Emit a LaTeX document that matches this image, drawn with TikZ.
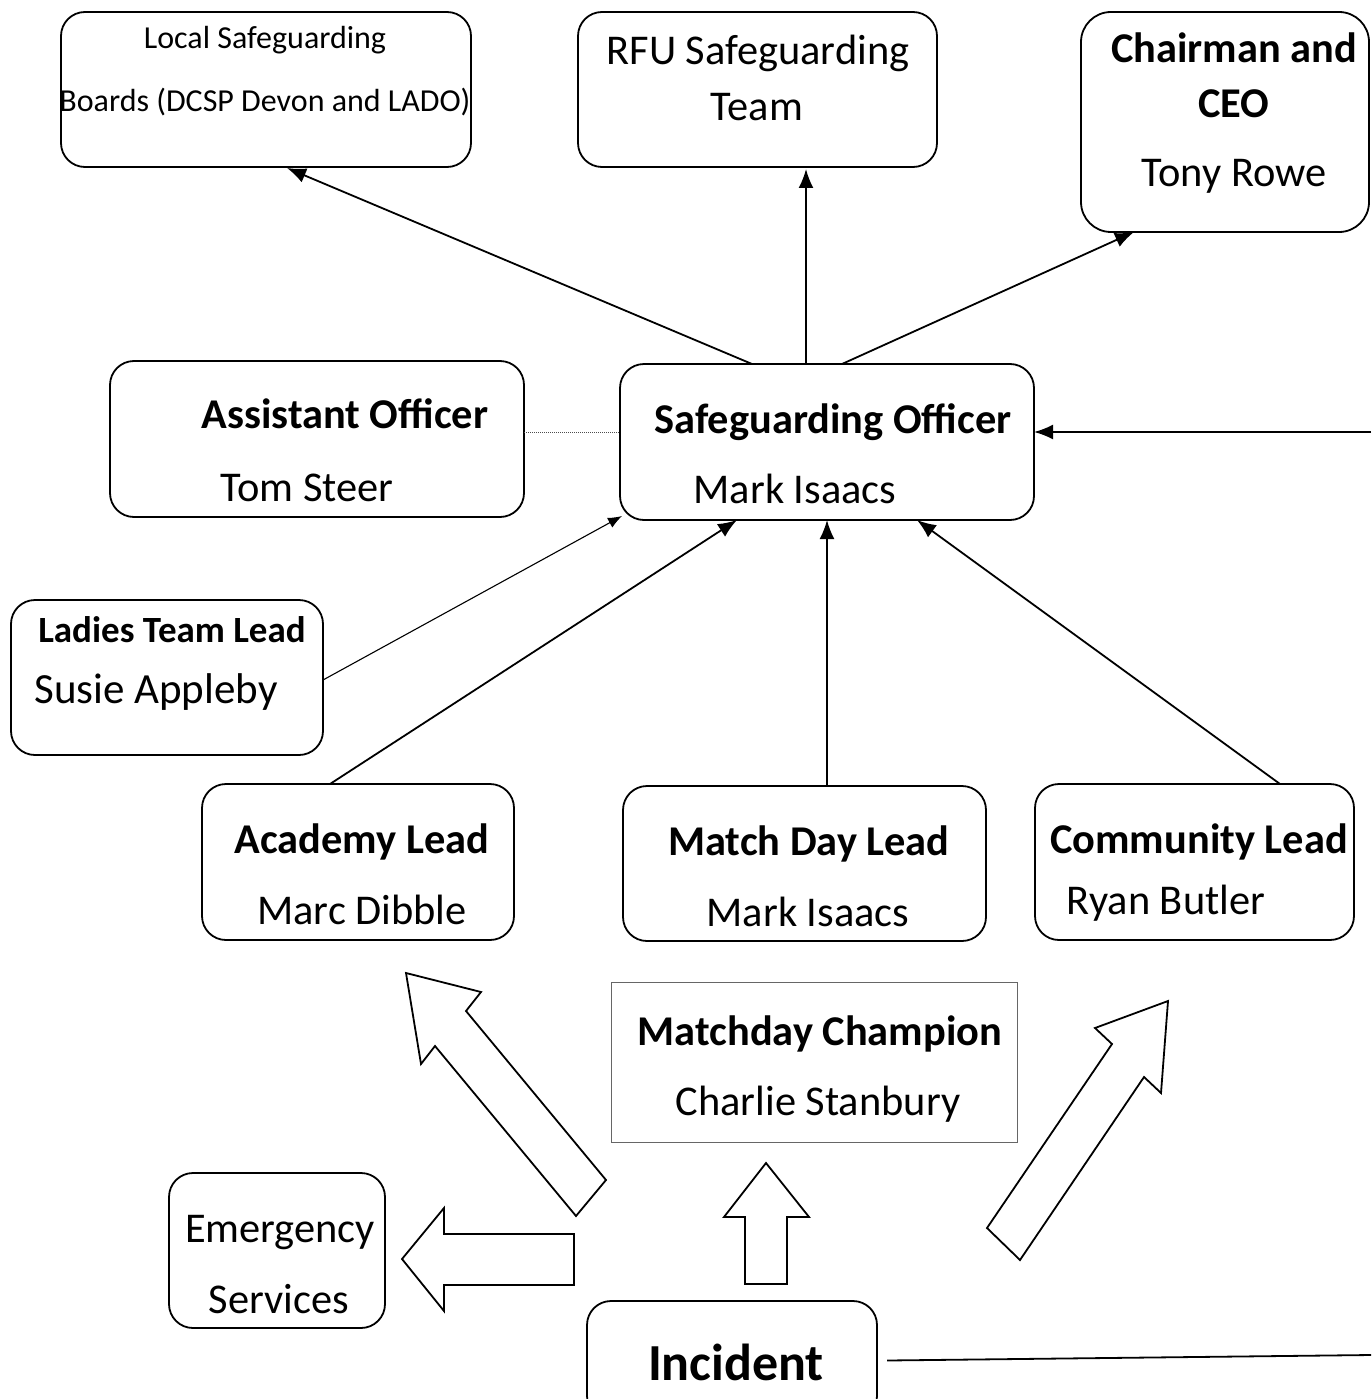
\documentclass[tikz,border=0pt]{standalone}
\usepackage{fontspec}
\setmainfont{Carlito}
\usetikzlibrary{arrows.meta}
\begin{document}
\begin{tikzpicture}[x=1pt,y=-1pt,
  rbox/.style={draw, line width=1.8pt, rounded corners=24pt, inner sep=0pt, outer sep=0pt},
  sbox/.style={draw=black!60, line width=1pt, inner sep=0pt, outer sep=0pt},
  txt/.style={inner sep=0pt, anchor=base, font=\fontsize{42.4}{50}\selectfont},
  btxt/.style={inner sep=0pt, anchor=base, font=\fontsize{42.4}{50}\selectfont\bfseries},
  conn/.style={line width=1.8pt, -{Latex[length=19pt,width=15pt]}},
  thinconn/.style={line width=1.1pt, -{Latex[length=14pt,width=11pt]}},
  blockarrow/.style={draw, line width=1.8pt, fill=white, line join=miter}
]
\useasboundingbox (0,0) rectangle (1371,1399);

% boxes
\node[rbox, minimum width=410pt, minimum height=155pt] (lsb) at (266,89.5) {};
\node[rbox, minimum width=359pt, minimum height=155pt] (rfu) at (757.5,89.5) {};
\node[rbox, rounded corners=30pt, minimum width=288pt, minimum height=220pt] (chair) at (1225,122) {};
\node[rbox, minimum width=414pt, minimum height=156pt] (asst) at (317,439) {};
\node[rbox, minimum width=414pt, minimum height=156pt] (so) at (827,442) {};
\node[rbox, minimum width=312pt, minimum height=155pt] (lad) at (167,677.5) {};
\node[rbox, minimum width=312pt, minimum height=156pt] (acad) at (358,862) {};
\node[rbox, minimum width=363pt, minimum height=155pt] (md) at (804.5,863.5) {};
\node[rbox, minimum width=319pt, minimum height=156pt] (com) at (1194.5,862) {};
\node[sbox, minimum width=406pt, minimum height=160pt] (champ) at (814,1062) {};
\node[rbox, minimum width=216pt, minimum height=155pt] (emg) at (277,1250.5) {};
\node[rbox, minimum width=290pt, minimum height=119pt] (inc) at (732,1360.5) {};

% texts
\node[txt, font=\fontsize{32}{38}\selectfont] (t1) at (265,49) {Local Safeguarding};
\node[txt, font=\fontsize{32}{38}\selectfont] (t2) at (265,112) {Boards (DCSP Devon and LADO)};
\node[txt] (t3) at (758,65) {RFU Safeguarding};
\node[txt] (t4) at (757,121) {Team};
\node[btxt] (t5) at (1234,63) {Chairman and};
\node[btxt] (t6) at (1234,118) {CEO};
\node[txt] (t7) at (1234,186) {Tony Rowe};
\node[btxt] (t8) at (345,428) {Assistant Officer};
\node[txt] (t9) at (307,501) {Tom Steer};
\node[btxt] (t10) at (833,433) {Safeguarding Officer};
\node[txt] (t11) at (795,503) {Mark Isaacs};
\node[btxt, font=\fontsize{37}{44}\selectfont\bfseries] (t12) at (172,642) {Ladies Team Lead};
\node[txt, font=\fontsize{43}{50}\selectfont] (t13) at (156,703) {Susie Appleby};
\node[btxt] (t14) at (362,853) {Academy Lead};
\node[txt] (t15) at (362,924) {Marc Dibble};
\node[btxt] (t16) at (809,855) {Match Day Lead};
\node[txt] (t17) at (808,926) {Mark Isaacs};
\node[btxt] (t18) at (1199,853) {Community Lead};
\node[txt] (t19) at (1166,914) {Ryan Butler};
\node[btxt] (t20) at (820,1045) {Matchday Champion};
\node[txt] (t21) at (818,1115) {Charlie Stanbury};
\node[txt] (t22) at (280,1242) {Emergency};
\node[txt] (t23) at (279,1313) {Services};
\node[btxt, font=\fontsize{52}{60}\selectfont\bfseries] (t24) at (736,1380) {Incident};

% connectors
\draw[conn] ([xshift=-75pt]so.north) -- ([xshift=21pt,yshift=-1pt]lsb.south);
\draw[conn] ([xshift=-21pt]so.north) -- ([xshift=48.5pt,yshift=-2pt]rfu.south);
\draw[conn] ([xshift=15pt]so.north) -- ([xshift=-91pt]chair.south);
\draw[line width=1pt, densely dotted, black!70] ([yshift=7pt]asst.east) -- ([yshift=10pt]so.west);
\coordinate (e1) at (1371,432);
\coordinate (e2) at (1371,1355);
\draw[conn] (e1) -- (e1 -| so.east);
\draw[thinconn] ([yshift=-2.5pt]lad.east) -- ([xshift=2pt,yshift=4pt]so.south west);
\draw[conn] ([xshift=-28pt]acad.north) -- ([xshift=-90pt]so.south);
\draw[conn] (md.north -| so.south) -- (so.south);
\draw[conn] ([xshift=85.5pt]com.north) -- ([xshift=90pt]so.south);
\draw[line width=1.8pt] ([xshift=10pt]inc.east) -- (e2);

% block arrows
\draw[blockarrow] (406,973) -- (481,992) -- (466,1011) -- (606,1180) -- (576,1216) -- (435,1046) -- (421,1064) -- cycle;
\draw[blockarrow] (1168,1001) -- (1161,1093) -- (1144,1077) -- (1020,1260) -- (987,1228) -- (1112,1044) -- (1095,1028) -- cycle;
\draw[blockarrow] (766,1163) -- (809,1217) -- (787,1217) -- (787,1284) -- (745,1284) -- (745,1217) -- (724,1217) -- cycle;
\draw[blockarrow] (402,1259) -- (444,1208) -- (444,1234) -- (574,1234) -- (574,1285) -- (444,1285) -- (444,1311) -- cycle;
\end{tikzpicture}
\end{document}
